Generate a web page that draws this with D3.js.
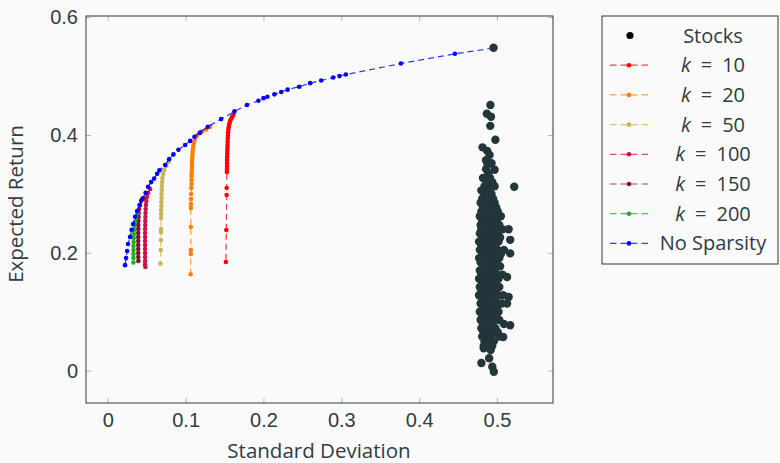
<!DOCTYPE html>
<html>
<head>
<meta charset="utf-8">
<script src="https://cdn.jsdelivr.net/npm/d3@7"></script>
<style>
  body { margin: 0; background: #fafafa; }
  svg { display: block; font-family: "Open Sans", Lato, sans-serif; }
  .tick text { fill: #2e3d41; font-size: 20px; }
  .tick line { stroke: #b4b4b4; }
</style>
</head>
<body>
<svg width="780" height="463"></svg>
<script>
    // values: [standard deviation, expected return]
    var xTicks = [0, 0.1, 0.2, 0.3, 0.4, 0.5];
    var yTicks = [0, 0.2, 0.4, 0.6];

    var noSparsity = [
        [0.0222,0.179],[0.0235,0.191],[0.0248,0.203],[0.0260,0.215],[0.0287,0.227],[0.0306,0.239],
        [0.0325,0.249],[0.0351,0.261],[0.0377,0.271],[0.0409,0.281],[0.0441,0.291],[0.0486,0.302],
        [0.0518,0.312],[0.0557,0.320],[0.0595,0.326],[0.0634,0.334],[0.0663,0.340],[0.0737,0.349],
        [0.0788,0.359],[0.0843,0.367],[0.0907,0.375],[0.0994,0.383],[0.1058,0.390],[0.1113,0.397],
        [0.1186,0.404],[0.1285,0.414],[0.1456,0.427],[0.1627,0.440],[0.1787,0.451],[0.1936,0.458],
        [0.2000,0.4625],[0.2051,0.465],[0.2141,0.469],[0.2228,0.473],[0.2311,0.477],[0.2459,0.482],
        [0.2600,0.488],[0.2742,0.4925],[0.2896,0.4975],[0.2977,0.500],[0.3059,0.5026],[0.3766,0.5213],
        [0.4460,0.5378],[0.4956,0.5475]
    ];

    var k10 = [
        [0.1614,0.4342],[0.1598,0.4308],[0.1585,0.4274],[0.1572,0.4240],[0.1566,0.4206],[0.1559,0.4172],
        [0.1553,0.4129],[0.1549,0.4087],[0.1546,0.4036],[0.1544,0.3985],[0.1541,0.3934],[0.1540,0.3883],
        [0.1539,0.3832],[0.1537,0.3781],[0.1536,0.3730],[0.1535,0.3679],[0.1533,0.3628],[0.1533,0.3577],
        [0.1532,0.3526],[0.1532,0.3475],[0.1531,0.3424],[0.1530,0.3373],[0.1527,0.3101],[0.1527,0.2982],
        [0.1523,0.2388],[0.1517,0.1844]
    ];

    var k20 = [
        [0.1315,0.4138],[0.1264,0.4095],[0.1212,0.4061],[0.1174,0.4027],[0.1148,0.3993],[0.1129,0.3959],
        [0.1116,0.3917],[0.1105,0.3866],[0.1099,0.3815],[0.1094,0.3764],[0.1090,0.3713],[0.1087,0.3662],
        [0.1085,0.3611],[0.1084,0.3560],[0.1082,0.3509],[0.1081,0.3458],[0.1080,0.3407],[0.1078,0.3356],
        [0.1077,0.3305],[0.1076,0.3237],[0.1075,0.3169],[0.1073,0.3101],[0.1071,0.2999],[0.1069,0.2914],
        [0.1068,0.2829],[0.1067,0.2762],[0.1067,0.2439],[0.1067,0.2048],[0.1066,0.1980],[0.1064,0.1635]
    ];

    var k50 = [
        [0.0781,0.3543],[0.0749,0.3475],[0.0724,0.3407],[0.0711,0.3339],[0.0702,0.3271],[0.0698,0.3203],
        [0.0695,0.3135],[0.0693,0.3067],[0.0692,0.2999],[0.0690,0.2931],[0.0689,0.2863],[0.0688,0.2795],
        [0.0686,0.2727],[0.0685,0.2659],[0.0685,0.2591],[0.0684,0.2404],[0.0684,0.2353],[0.0683,0.2218],
        [0.0681,0.2048],[0.0676,0.1818]
    ];

    var k100 = [
        [0.0544,0.3084],[0.0518,0.3016],[0.0503,0.2948],[0.0495,0.2880],[0.0490,0.2812],[0.0487,0.2744],
        [0.0485,0.2676],[0.0483,0.2608],[0.0482,0.2540],[0.0481,0.2472],[0.0479,0.2404],[0.0479,0.2337],
        [0.0479,0.2269],[0.0479,0.2201],[0.0479,0.2133],[0.0479,0.2065],[0.0479,0.1997],[0.0479,0.1929],
        [0.0479,0.1861],[0.0479,0.1801],[0.0483,0.1759]
    ];

    var k150 = [
        [0.0454,0.2931],[0.0428,0.2880],[0.0413,0.2812],[0.0402,0.2744],[0.0397,0.2676],[0.0395,0.2608],
        [0.0393,0.2540],[0.0392,0.2472],[0.0392,0.2404],[0.0391,0.2337],[0.0391,0.2269],[0.0391,0.2201],
        [0.0391,0.2133],[0.0391,0.2065],[0.0391,0.1997],[0.0392,0.1929],[0.0393,0.1861]
    ];

    var k200 = [
        [0.0383,0.2676],[0.0364,0.2591],[0.0351,0.2523],[0.0343,0.2456],[0.0338,0.2388],[0.0335,0.2320],
        [0.0333,0.2252],[0.0332,0.2184],[0.0330,0.2116],[0.0330,0.2048],[0.0330,0.1980],[0.0329,0.1912],
        [0.0329,0.1835]
    ];

    var stocks = [
        [0.4956,0.548],[0.4916,0.451],[0.487,0.436],[0.4923,0.431],[0.4914,0.4155],[0.498,0.392],
        [0.4815,0.379],[0.4875,0.373],[0.4905,0.366],[0.486,0.357],[0.493,0.352],[0.497,0.341],
        [0.488,0.350],[0.486,0.342],[0.489,0.335],[0.482,0.327],[0.491,0.327],[0.487,0.320],[0.494,0.320],
        [0.484,0.313],[0.490,0.313],[0.497,0.313],[0.5222,0.312],[0.480,0.306],[0.488,0.306],
        [0.484,0.300],[0.489,0.300],[0.493,0.300],
        [0.481,0.292],[0.487,0.292],[0.495,0.292],[0.491,0.292],
        [0.479,0.285],[0.486,0.285],[0.492,0.285],[0.497,0.285],
        [0.482,0.277],[0.488,0.277],[0.494,0.277],[0.499,0.277],[0.485,0.277],
        [0.480,0.270],[0.484,0.270],[0.490,0.270],[0.496,0.270],[0.501,0.270],
        [0.478,0.262],[0.486,0.262],[0.492,0.262],[0.498,0.262],[0.505,0.262],
        [0.481,0.255],[0.487,0.255],[0.489,0.255],[0.495,0.255],[0.500,0.255],
        [0.479,0.247],[0.484,0.247],[0.491,0.247],[0.497,0.247],[0.503,0.247],
        [0.480,0.240],[0.486,0.240],[0.493,0.240],[0.498,0.240],[0.507,0.240],[0.515,0.240],
        [0.478,0.233],[0.483,0.233],[0.489,0.233],[0.494,0.233],[0.501,0.233],
        [0.481,0.226],[0.487,0.226],[0.492,0.226],[0.499,0.226],[0.504,0.226],
        [0.477,0.219],[0.484,0.219],[0.490,0.219],[0.496,0.219],[0.502,0.219],[0.517,0.222],
        [0.480,0.212],[0.486,0.212],[0.493,0.212],[0.498,0.212],
        [0.478,0.205],[0.483,0.205],[0.489,0.205],[0.495,0.205],[0.501,0.205],[0.509,0.205],
        [0.481,0.198],[0.487,0.198],[0.492,0.198],[0.499,0.198],[0.505,0.198],[0.517,0.199],
        [0.477,0.191],[0.484,0.191],[0.490,0.191],[0.496,0.191],[0.503,0.191],
        [0.479,0.184],[0.486,0.184],[0.493,0.184],[0.500,0.184],
        [0.482,0.177],[0.488,0.177],[0.494,0.177],[0.498,0.177],[0.504,0.177],
        [0.478,0.170],[0.485,0.170],[0.491,0.170],[0.497,0.170],
        [0.480,0.163],[0.487,0.163],[0.493,0.163],[0.500,0.163],[0.507,0.163],[0.513,0.159],
        [0.477,0.156],[0.483,0.156],[0.489,0.156],[0.495,0.156],[0.502,0.156],
        [0.481,0.149],[0.486,0.149],[0.492,0.149],[0.498,0.149],
        [0.478,0.142],[0.484,0.142],[0.490,0.142],[0.496,0.142],[0.503,0.142],
        [0.480,0.135],[0.487,0.135],[0.493,0.135],[0.499,0.135],
        [0.477,0.128],[0.483,0.128],[0.489,0.128],[0.495,0.128],[0.501,0.128],[0.508,0.128],[0.515,0.125],
        [0.481,0.121],[0.486,0.121],[0.492,0.121],[0.498,0.121],
        [0.479,0.114],[0.485,0.114],[0.490,0.114],[0.497,0.114],[0.506,0.114],[0.513,0.114],
        [0.482,0.107],[0.488,0.107],[0.494,0.107],[0.500,0.107],
        [0.478,0.100],[0.484,0.100],[0.491,0.100],[0.496,0.100],[0.502,0.100],
        [0.481,0.093],[0.487,0.093],[0.493,0.093],[0.499,0.093],
        [0.479,0.086],[0.485,0.086],[0.490,0.086],[0.497,0.086],[0.503,0.086],
        [0.482,0.079],[0.488,0.079],[0.494,0.079],[0.509,0.079],[0.517,0.077],
        [0.480,0.072],[0.486,0.072],[0.491,0.072],[0.498,0.072],
        [0.483,0.065],[0.489,0.065],[0.495,0.065],[0.501,0.065],
        [0.481,0.058],[0.487,0.058],[0.492,0.058],[0.503,0.058],[0.508,0.057],
        [0.484,0.050],[0.490,0.050],[0.496,0.050],
        [0.483,0.042],[0.488,0.042],[0.494,0.042],
        [0.483,0.038],[0.492,0.035],[0.490,0.021],[0.480,0.013],[0.494,0.0065],[0.496,-0.002]
    ];

    var series = [
        { name: "10", color: "#ff0000", data: k10 },
        { name: "20", color: "#ff8000", data: k20 },
        { name: "50", color: "#c6b458", data: k50 },
        { name: "100", color: "#c8144a", data: k100 },
        { name: "150", color: "#8a0a34", data: k150 },
        { name: "200", color: "#1cb01c", data: k200 },
        { name: "No Sparsity", color: "#0000ff", data: noSparsity }
    ];

    var svg = d3.select("svg");
    var textColor = "#2e3d41";
    var frameColor = "#2b3a3e";

    var x = d3.scaleLinear().domain([-0.028, 0.572]).range([86, 553]);
    var y = d3.scaleLinear().domain([-0.055, 0.602]).range([403, 16]);

    var fmt = function(d) { return d === 0 ? "0" : d3.format(".1f")(d); };

    // ticks go inwards on all four sides
    svg.append("g")
        .attr("transform", "translate(0,403)")
        .call(d3.axisBottom(x).tickValues(xTicks).tickFormat(fmt).tickSize(-5).tickSizeOuter(0).tickPadding(10))
        .call(function(g) { g.select(".domain").remove(); });
    svg.append("g")
        .attr("transform", "translate(0,16)")
        .call(d3.axisTop(x).tickValues(xTicks).tickFormat("").tickSize(-5).tickSizeOuter(0))
        .call(function(g) { g.select(".domain").remove(); });
    svg.append("g")
        .attr("transform", "translate(86,0)")
        .call(d3.axisLeft(y).tickValues(yTicks).tickFormat(fmt).tickSize(-5).tickSizeOuter(0).tickPadding(8))
        .call(function(g) { g.select(".domain").remove(); });
    svg.append("g")
        .attr("transform", "translate(553,0)")
        .call(d3.axisRight(y).tickValues(yTicks).tickFormat("").tickSize(-5).tickSizeOuter(0))
        .call(function(g) { g.select(".domain").remove(); });
    svg.selectAll(".tick text").attr("fill", textColor);
    svg.selectAll(".tick line").attr("stroke", "#b4b4b4");

    svg.append("rect")
        .attr("x", 86).attr("y", 16)
        .attr("width", 553 - 86).attr("height", 403 - 16)
        .attr("fill", "none")
        .attr("stroke", frameColor)
        .attr("stroke-width", 1);

    svg.append("text")
        .attr("x", 319).attr("y", 458)
        .attr("text-anchor", "middle")
        .attr("fill", textColor)
        .attr("font-size", 20.5)
        .text("Standard Deviation");

    svg.append("text")
        .attr("transform", "translate(23,204) rotate(-90)")
        .attr("text-anchor", "middle")
        .attr("fill", textColor)
        .attr("font-size", 20.5)
        .text("Expected Return");

    var line = d3.line()
        .x(function(d) { return x(d[0]); })
        .y(function(d) { return y(d[1]); });

    var plot = svg.append("g");

    series.forEach(function(s) {
        plot.append("path")
            .datum(s.data)
            .attr("d", line)
            .attr("fill", "none")
            .attr("stroke", s.color)
            .attr("stroke-opacity", 0.8)
            .attr("stroke-width", 1.2)
            .attr("stroke-dasharray", "6,4");
        plot.append("g").selectAll("circle")
            .data(s.data)
            .enter().append("circle")
                .attr("cx", function(d) { return x(d[0]); })
                .attr("cy", function(d) { return y(d[1]); })
                .attr("r", 2.3)
                .attr("fill", s.color);
    });

    plot.append("g").selectAll("circle")
        .data(stocks)
        .enter().append("circle")
            .attr("cx", function(d) { return x(d[0]); })
            .attr("cy", function(d) { return y(d[1]); })
            .attr("r", 4.2)
            .attr("fill", "#23363a");

    // legend
    var legend = svg.append("g").attr("class", "legend");
    legend.append("rect")
        .attr("x", 602).attr("y", 16)
        .attr("width", 176).attr("height", 248)
        .attr("fill", "#fafafa")
        .attr("stroke", frameColor)
        .attr("stroke-width", 1);

    var rowY = function(i) { return 35.5 + i * 29.7; };

    legend.append("circle")
        .attr("cx", 630).attr("cy", rowY(0))
        .attr("r", 3.6)
        .attr("fill", "#000");
    legend.append("text")
        .attr("x", 713).attr("y", rowY(0) + 7)
        .attr("text-anchor", "middle")
        .attr("fill", textColor)
        .attr("font-size", 20)
        .text("Stocks");

    series.forEach(function(s, i) {
        var yy = rowY(i + 1);
        legend.append("line")
            .attr("x1", 610).attr("x2", 648)
            .attr("y1", yy).attr("y2", yy)
            .attr("stroke", s.color)
            .attr("stroke-opacity", 0.75)
            .attr("stroke-width", 1.2)
            .attr("stroke-dasharray", "6.5,4");
        legend.append("circle")
            .attr("cx", 629).attr("cy", yy)
            .attr("r", 2.3)
            .attr("fill", s.color);
        var t = legend.append("text")
            .attr("x", 713).attr("y", yy + 7)
            .attr("text-anchor", "middle")
            .attr("fill", textColor)
            .attr("font-size", 20);
        if (s.name === "No Sparsity") {
            t.text(s.name);
        } else {
            t.append("tspan").attr("font-style", "italic").text("k");
            t.append("tspan").text("\u2002=\u2002" + s.name);
        }
    });
</script>
</body>
</html>
